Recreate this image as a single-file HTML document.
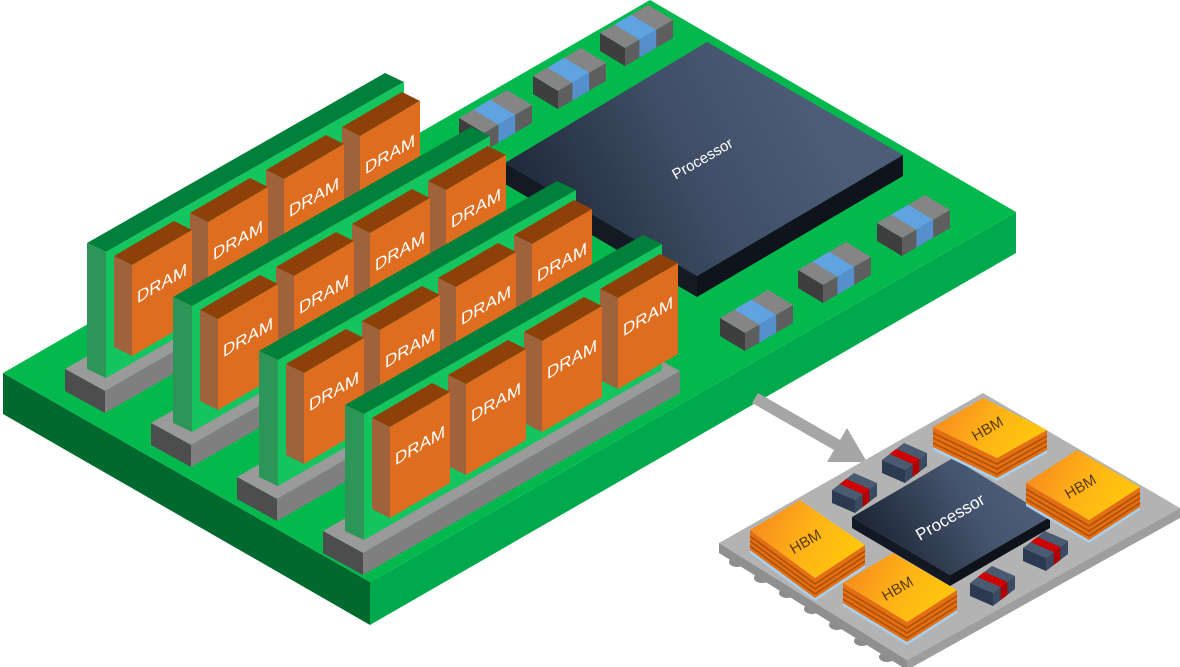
<!DOCTYPE html>
<html><head><meta charset="utf-8"><style>html,body{margin:0;padding:0;background:#fff}svg{display:block}text{font-family:"Liberation Sans",sans-serif}</style></head>
<body>
<svg width="1180" height="667" viewBox="0 0 1180 667" xmlns="http://www.w3.org/2000/svg">
<defs>
<linearGradient id="pg" x1="505" y1="270" x2="820" y2="110" gradientUnits="userSpaceOnUse"><stop offset="0" stop-color="#161e2c"/><stop offset="0.6" stop-color="#3f4e66"/><stop offset="1" stop-color="#4d5d78"/></linearGradient>
<linearGradient id="pg2" x1="860" y1="560" x2="1010" y2="470" gradientUnits="userSpaceOnUse"><stop offset="0" stop-color="#161e2c"/><stop offset="0.7" stop-color="#45546e"/><stop offset="1" stop-color="#4d5d78"/></linearGradient>
<linearGradient id="hg" x1="0" y1="0" x2="1" y2="0.3"><stop offset="0" stop-color="#f58220"/><stop offset="0.6" stop-color="#ffb316"/><stop offset="1" stop-color="#ffc60e"/></linearGradient>
<g id="cap">
<polygon points="0,0 48,-28 73,-13 25,15" fill="#858585"/>
<polygon points="14.4,-8.4 31.2,-18.2 56.2,-3.2 39.4,6.6" fill="#5fa3e0"/>
<polygon points="0,0 25,15 25,33 0,18" fill="#3e3e3e"/>
<polygon points="25,15 73,-13 73,5 25,33" fill="#5e5e5e"/>
<polygon points="39.4,6.6 56.2,-3.2 56.2,14.8 39.4,24.6" fill="#5590cc"/>
</g>
<g id="pcap">
<polygon points="0,0 22,-17 45,-7 23,10" fill="#4a5a70"/>
<polygon points="7.7,-5.95 14.3,-11.05 37.3,-1.05 30.7,4.05" fill="#d00000"/>
<polygon points="0,0 23,10 23,23 0,13" fill="#2b3a50"/>
<polygon points="23,10 45,-7 45,6 23,23" fill="#3a4a62"/>
<polygon points="30.7,4.05 37.3,-1.05 37.3,11.95 30.7,17.05" fill="#b00000"/>
</g>
<g id="row">
<polygon points="-22,126 18,148 335,-34 295,-56" fill="#9a9a9a"/>
<polygon points="-22,126 18,148 18,170 -22,148" fill="#4d4d4d"/>
<polygon points="18,148 335,-34 335,-12 18,170" fill="#7f7f7f"/>
<polygon points="0,0 19,9 317,-161 298,-170" fill="#00803a"/>
<polygon points="0,0 19,9 19,135 0,126" fill="#2e9558"/>
<polygon points="19,9 317,-161 317,-35 19,135" fill="#13c45f"/>
</g>
<g id="chip">
<polygon points="0,0 60,-35 78,-26 18,9" fill="#8e4009"/>
<polygon points="0,0 18,9 18,100 0,91" fill="#a0623a"/>
<polygon points="18,9 78,-26 78,65 18,100" fill="#de6d1f"/>
</g>
</defs>

<polygon points="3,373 370,582 370,625 3,414" fill="#006a2e"/>
<polygon points="370,582 1016,212 1016,253 370,625" fill="#00aa4c"/>
<polygon points="3,373 650,0 1016,212 370,582" fill="#03b94e"/>

<polygon points="505,163 697,276 697,297 505,184" fill="#141a24"/>
<polygon points="697,276 903,155 903,176 697,297" fill="#0f141c"/>
<polygon points="505,163 707,42 903,155 697,276" fill="url(#pg)"/>
<text transform="translate(705,163) rotate(-30)" font-size="15" fill="#fff" text-anchor="middle">Processor</text>

<use href="#cap" x="600" y="33"/>
<use href="#cap" x="533" y="76"/>
<use href="#cap" x="459" y="118"/>
<use href="#cap" x="877" y="223"/>
<use href="#cap" x="798" y="270"/>
<use href="#cap" x="720" y="318"/>

<g transform="translate(87,243)">
<use href="#row"/>
<g transform="translate(255,-116)"><use href="#chip"/><text transform="translate(48,33) skewY(-30)" font-size="17" fill="#fff" text-anchor="middle">DRAM</text></g>
<g transform="translate(179,-73)"><use href="#chip"/><text transform="translate(48,33) skewY(-30)" font-size="17" fill="#fff" text-anchor="middle">DRAM</text></g>
<g transform="translate(103,-30)"><use href="#chip"/><text transform="translate(48,33) skewY(-30)" font-size="17" fill="#fff" text-anchor="middle">DRAM</text></g>
<g transform="translate(27,13)"><use href="#chip"/><text transform="translate(48,33) skewY(-30)" font-size="17" fill="#fff" text-anchor="middle">DRAM</text></g>
</g>
<g transform="translate(173,297)">
<use href="#row"/>
<g transform="translate(255,-116)"><use href="#chip"/><text transform="translate(48,33) skewY(-30)" font-size="17" fill="#fff" text-anchor="middle">DRAM</text></g>
<g transform="translate(179,-73)"><use href="#chip"/><text transform="translate(48,33) skewY(-30)" font-size="17" fill="#fff" text-anchor="middle">DRAM</text></g>
<g transform="translate(103,-30)"><use href="#chip"/><text transform="translate(48,33) skewY(-30)" font-size="17" fill="#fff" text-anchor="middle">DRAM</text></g>
<g transform="translate(27,13)"><use href="#chip"/><text transform="translate(48,33) skewY(-30)" font-size="17" fill="#fff" text-anchor="middle">DRAM</text></g>
</g>
<g transform="translate(259,351)">
<use href="#row"/>
<g transform="translate(255,-116)"><use href="#chip"/><text transform="translate(48,33) skewY(-30)" font-size="17" fill="#fff" text-anchor="middle">DRAM</text></g>
<g transform="translate(179,-73)"><use href="#chip"/><text transform="translate(48,33) skewY(-30)" font-size="17" fill="#fff" text-anchor="middle">DRAM</text></g>
<g transform="translate(103,-30)"><use href="#chip"/><text transform="translate(48,33) skewY(-30)" font-size="17" fill="#fff" text-anchor="middle">DRAM</text></g>
<g transform="translate(27,13)"><use href="#chip"/><text transform="translate(48,33) skewY(-30)" font-size="17" fill="#fff" text-anchor="middle">DRAM</text></g>
</g>
<g transform="translate(345,405)">
<use href="#row"/>
<g transform="translate(255,-116)"><use href="#chip"/><text transform="translate(48,33) skewY(-30)" font-size="17" fill="#fff" text-anchor="middle">DRAM</text></g>
<g transform="translate(179,-73)"><use href="#chip"/><text transform="translate(48,33) skewY(-30)" font-size="17" fill="#fff" text-anchor="middle">DRAM</text></g>
<g transform="translate(103,-30)"><use href="#chip"/><text transform="translate(48,33) skewY(-30)" font-size="17" fill="#fff" text-anchor="middle">DRAM</text></g>
<g transform="translate(27,13)"><use href="#chip"/><text transform="translate(48,33) skewY(-30)" font-size="17" fill="#fff" text-anchor="middle">DRAM</text></g>
</g>

<polygon points="758,393 840,440 847,428 867,462 827,462 834,450 752,403" fill="#a6a6a6"/>

<g fill="#8c8c8c">
<ellipse cx="737" cy="562" rx="8" ry="5"/>
<ellipse cx="762" cy="578" rx="8" ry="5"/>
<ellipse cx="787" cy="593" rx="8" ry="5"/>
<ellipse cx="812" cy="609" rx="8" ry="5"/>
<ellipse cx="837" cy="625" rx="8" ry="5"/>
<ellipse cx="862" cy="641" rx="8" ry="5"/>
<ellipse cx="887" cy="657" rx="8" ry="5"/>
</g>
<polygon points="719,543 907,660 907,670 719,553" fill="#8f8f8f"/>
<polygon points="907,660 1180,508 1180,518 907,670" fill="#9e9e9e"/>
<polygon points="719,543 983,393 1180,508 907,660" fill="#b3b3b3"/>

<use href="#pcap" x="832" y="490"/>
<use href="#pcap" x="882" y="460"/>
<use href="#pcap" x="1023" y="548"/>
<use href="#pcap" x="970" y="583"/>

<polygon points="852,517 950,575 950,586 852,528" fill="#131924"/>
<polygon points="950,575 1050,517 1050,528 950,586" fill="#0e131b"/>
<polygon points="852,517 953,458 1050,517 950,575" fill="url(#pg2)"/>
<text transform="translate(953,522) rotate(-30)" font-size="17" fill="#fff" text-anchor="middle">Processor</text>

<g>
<polygon points="933,427 997,458 1047,430 1047,452 997,480 933,449" fill="#e46f12"/>
<polyline points="933,433 997,464 1047,436" fill="none" stroke="#a8500a" stroke-width="1.5"/>
<polyline points="933,438 997,469 1047,441" fill="none" stroke="#a8500a" stroke-width="1.5"/>
<polyline points="933,443 997,474 1047,446" fill="none" stroke="#a8500a" stroke-width="1.5"/>
<polygon points="933,447 997,478 1047,450 1047,453 997,481 933,450" fill="#a8d0f0"/>
<polygon points="933,427 983,398 1047,430 997,458" fill="url(#hg)"/>
<text transform="translate(990,433) rotate(-30)" font-size="15" fill="#5a3c12" text-anchor="middle">HBM</text>
</g>
<g>
<polygon points="1026,483 1089,520 1140,487 1140,509 1089,542 1026,505" fill="#e46f12"/>
<polyline points="1026,489 1089,526 1140,493" fill="none" stroke="#a8500a" stroke-width="1.5"/>
<polyline points="1026,494 1089,531 1140,498" fill="none" stroke="#a8500a" stroke-width="1.5"/>
<polyline points="1026,499 1089,536 1140,503" fill="none" stroke="#a8500a" stroke-width="1.5"/>
<polygon points="1026,503 1089,540 1140,507 1140,510 1089,543 1026,506" fill="#a8d0f0"/>
<polygon points="1026,483 1077,450 1140,487 1089,520" fill="url(#hg)"/>
<text transform="translate(1083,491) rotate(-30)" font-size="15" fill="#5a3c12" text-anchor="middle">HBM</text>
</g>
<g>
<polygon points="750,530 815,578 865,545 865,567 815,600 750,552" fill="#e46f12"/>
<polyline points="750,536 815,584 865,551" fill="none" stroke="#a8500a" stroke-width="1.5"/>
<polyline points="750,541 815,589 865,556" fill="none" stroke="#a8500a" stroke-width="1.5"/>
<polyline points="750,546 815,594 865,561" fill="none" stroke="#a8500a" stroke-width="1.5"/>
<polygon points="750,550 815,598 865,565 865,568 815,601 750,553" fill="#a8d0f0"/>
<polygon points="750,530 800,500 865,545 815,578" fill="url(#hg)"/>
<text transform="translate(808,546) rotate(-30)" font-size="15" fill="#5a3c12" text-anchor="middle">HBM</text>
</g>
<g>
<polygon points="843,583 907,622 957,590 957,612 907,644 843,605" fill="#e46f12"/>
<polyline points="843,589 907,628 957,596" fill="none" stroke="#a8500a" stroke-width="1.5"/>
<polyline points="843,594 907,633 957,601" fill="none" stroke="#a8500a" stroke-width="1.5"/>
<polyline points="843,599 907,638 957,606" fill="none" stroke="#a8500a" stroke-width="1.5"/>
<polygon points="843,603 907,642 957,610 957,613 907,645 843,606" fill="#a8d0f0"/>
<polygon points="843,583 893,553 957,590 907,622" fill="url(#hg)"/>
<text transform="translate(900,593) rotate(-30)" font-size="15" fill="#5a3c12" text-anchor="middle">HBM</text>
</g>
</svg>
</body></html>
